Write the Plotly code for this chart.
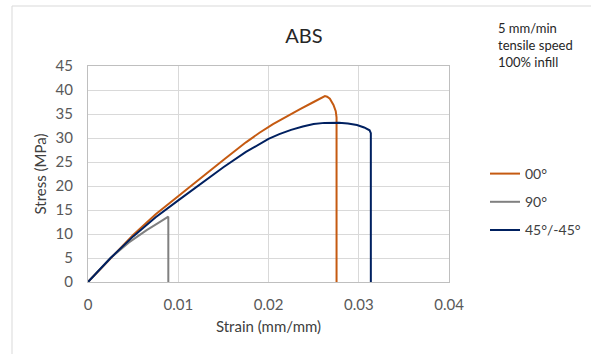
import plotly.graph_objects as go

# Data
strain_00 = [0, 0.0025, 0.005, 0.0075, 0.01, 0.0125, 0.015, 0.0175, 0.019, 0.0205, 0.022, 0.0235, 0.025, 0.0258, 0.02625, 0.0265, 0.0268, 0.0272, 0.02745, 0.02754, 0.02754]
stress_00 = [0, 5.0, 9.8, 14.1, 17.9, 21.7, 25.4, 29.1, 31.1, 32.9, 34.5, 36.0, 37.5, 38.3, 38.75, 38.6, 38.2, 36.9, 35.6, 34.3, 0]

strain_90 = [0, 0.0025, 0.0045, 0.0065, 0.0078, 0.0086, 0.0089, 0.0089]
stress_90 = [0, 5.0, 8.2, 10.8, 12.3, 13.2, 13.6, 0]

strain_45 = [0, 0.0025, 0.005, 0.0075, 0.01, 0.0125, 0.015, 0.0175, 0.02, 0.0212, 0.0225, 0.0238, 0.025, 0.0262, 0.0278, 0.0288, 0.0298, 0.0306, 0.0312, 0.03134, 0.03134]
stress_45 = [0, 5.0, 9.5, 13.5, 17.0, 20.5, 23.9, 27.1, 29.8, 30.8, 31.7, 32.4, 32.9, 33.15, 33.2, 33.0, 32.7, 32.2, 31.6, 31.0, 0]

series_names = ["00°", "90°", "45°/-45°"]
series_colors = ["#C55A11", "#808080", "#002060"]

x_ticks = [0, 0.01, 0.02, 0.03, 0.04]
x_tick_labels = ["0", "0.01", "0.02", "0.03", "0.04"]
y_ticks = [0, 5, 10, 15, 20, 25, 30, 35, 40, 45]

FONT = "Lato, 'Open Sans', sans-serif"
GRID = "#D9D9D9"

fig = go.Figure()
for name, xs, ys, col in zip(series_names,
                             [strain_00, strain_90, strain_45],
                             [stress_00, stress_90, stress_45],
                             series_colors):
    fig.add_trace(go.Scatter(x=xs, y=ys, mode="lines", name=name, legendgroup=name,
                             line=dict(color=col, width=2)))

W, H = 591, 354
L, R, T, B = 88, 591 - 449, 66, 354 - 282
pw, ph = W - L - R, H - T - B

def px_x(p):
    return (p - L) / pw

def px_y(p):
    return (H - B - p) / ph

fig.update_layout(
    width=W, height=H,
    margin=dict(l=L, r=R, t=T, b=B, autoexpand=False),
    paper_bgcolor="white", plot_bgcolor="white",
    font=dict(family=FONT, size=15, color="#595959"),
    title=dict(text="ABS", x=px_x(304), xanchor="center", xref="paper",
               y=1 - 36 / H, yanchor="middle",
               font=dict(family=FONT, size=20, color="#262626")),
    xaxis=dict(range=[0, 0.04], tickvals=x_ticks, ticktext=x_tick_labels,
               showgrid=True, gridcolor=GRID, gridwidth=1,
               showline=True, linecolor="#BFBFBF", linewidth=1, mirror=True,
               zeroline=False, ticks="", ticklabelstandoff=9,
               title=dict(text="Strain (mm/mm)", standoff=9,
                          font=dict(size=15, color="#404040"))),
    yaxis=dict(range=[0, 45], tickvals=y_ticks,
               showgrid=True, gridcolor=GRID, gridwidth=1,
               showline=True, linecolor="#BFBFBF", linewidth=1, mirror=True,
               zeroline=False, ticks="", ticklabelstandoff=11,
               title=dict(text="Stress (MPa)", standoff=5,
                          font=dict(size=15, color="#404040"))),
    showlegend=True,
    legend=dict(x=px_x(485), xanchor="left", y=px_y(158), yanchor="top",
                bgcolor="rgba(0,0,0,0)", itemwidth=30, tracegroupgap=7,
                font=dict(size=14, color="#404040")),
    shapes=[
        dict(type="line", xref="paper", yref="paper",
             x0=px_x(12), x1=px_x(12), y0=px_y(360), y1=px_y(6),
             line=dict(color="#D9D9D9", width=1)),
        dict(type="line", xref="paper", yref="paper",
             x0=px_x(12), x1=px_x(600), y0=px_y(6), y1=px_y(6),
             line=dict(color="#D9D9D9", width=1)),
    ],
    annotations=[
        dict(text="5 mm/min<br>tensile speed<br>100% infill", xref="paper", yref="paper",
             x=px_x(496), y=px_y(18), xanchor="left", yanchor="top", align="left",
             showarrow=False, font=dict(family=FONT, size=13, color="#262626")),
    ],
)

fig.write_html("out.html")
